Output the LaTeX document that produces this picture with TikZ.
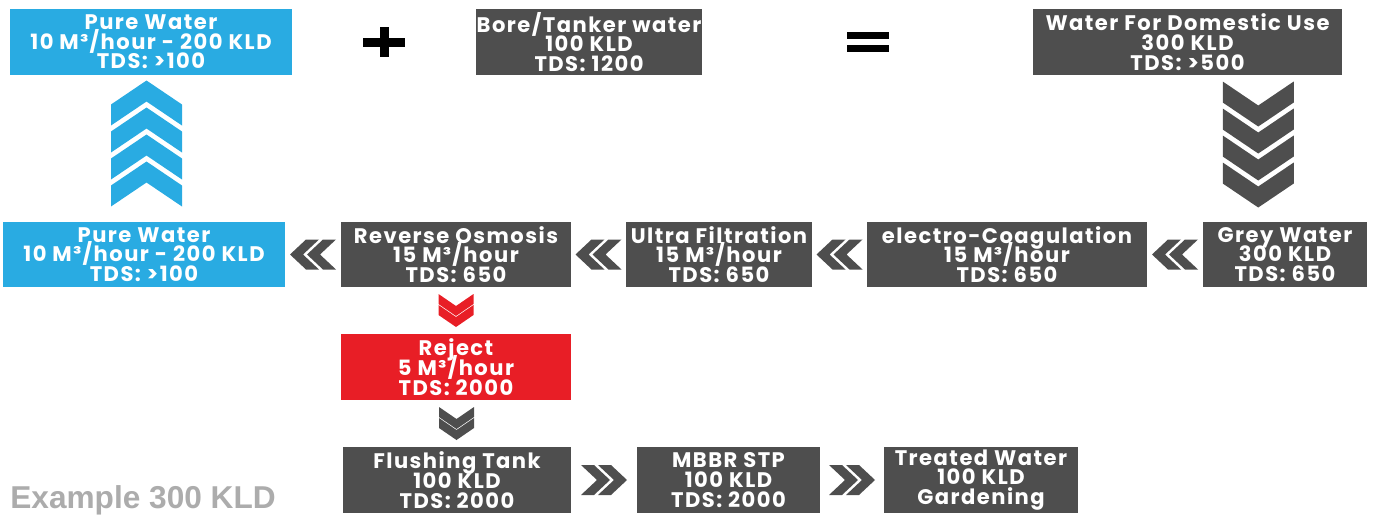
\documentclass[tikz,border=0pt]{standalone}
\usepackage{fontspec}
\usepackage{tikz}
\usetikzlibrary{calc}
\newfontfamily\boxfont{Poppins}[LetterSpace=7]
\newfontfamily\notefont{Liberation Sans}
\newcommand\flowfont{\boxfont\bfseries\fontsize{12}{11.2}\selectfont\lineskiplimit=-20pt\relax}

\tikzset{
  flowbox/.style={rectangle, inner sep=0pt, text=white, align=center,
    font=\flowfont},
  graybox/.style={flowbox, fill=boxgray},
  bluebox/.style={flowbox, fill=pureblue},
  redbox/.style={flowbox, fill=rejectred},
  % four stacked chevrons pointing up
  pics/chevstack/.style={code={
    \foreach \k in {0,...,3}{
      \pgfmathsetmacro\dy{-63+27*\k}
      \fill (-35.5,\dy+24) -- (0,\dy) -- (35.5,\dy+24) -- (35.5,\dy+45)
        -- (0,\dy+21) -- (-35.5,\dy+45) -- cycle;
    }}},
  % double chevron pointing left
  pics/chevleft/.style={code={
    \foreach \k in {0,1}{
      \pgfmathsetmacro\dx{-23+17*\k}
      \fill (\dx,0) -- (\dx+16,-15) -- (\dx+29,-15) -- (\dx+13,0)
        -- (\dx+29,15) -- (\dx+16,15) -- cycle;
    }}},
  % double chevron pointing down
  pics/chevdown/.style={code={
    \foreach \k in {0,1}{
      \pgfmathsetmacro\dy{-16.5+11*\k}
      \fill (-17.5,\dy) -- (0,\dy+12) -- (17.5,\dy) -- (17.5,\dy+10)
        -- (0,\dy+22) -- (-17.5,\dy+10) -- cycle;
    }}},
}

\begin{document}
\begin{tikzpicture}[x=0.02cm, y=-0.02cm]
  % Define colors
  \definecolor{boxgray}{RGB}{78,78,78}
  \definecolor{pureblue}{RGB}{41,171,226}
  \definecolor{rejectred}{RGB}{232,30,38}
  \definecolor{notegray}{RGB}{172,172,172}

  % Page frame
  \useasboundingbox (0,0) rectangle (1380,521);

  % Top row
  \node[bluebox, minimum width=5.64cm, minimum height=1.32cm] (pureTop) at (151,42)
    {Pure Water\\10 M³/hour - 200 KLD\\TDS: >100};
  \node[graybox, minimum width=4.52cm, minimum height=1.32cm] (bore) at (589,42)
    {Bore/Tanker water\\100 KLD\\TDS: 1200};
  \node[graybox, minimum width=6.18cm, minimum height=1.32cm] (domestic) at (1187.5,42)
    {Water For Domestic Use\\300 KLD\\TDS: >500};

  % Middle row
  \node[bluebox, minimum width=5.64cm, minimum height=1.3cm] (pureMid) at (144,254.5)
    {Pure Water\\10 M³/hour - 200 KLD\\TDS: >100};
  \node[graybox, minimum width=4.6cm, minimum height=1.3cm] (ro) at (456,254.5)
    {Reverse Osmosis\\15 M³/hour\\TDS: 650};
  \node[graybox, minimum width=3.72cm, minimum height=1.3cm] (uf) at (719,254.5)
    {Ultra Filtration\\15 M³/hour\\TDS: 650};
  \node[graybox, minimum width=5.6cm, minimum height=1.3cm] (ec) at (1007,254.5)
    {electro-Coagulation\\15 M³/hour\\TDS: 650};
  \node[graybox, minimum width=3.28cm, minimum height=1.3cm] (grey) at (1285,254.5)
    {Grey Water\\300 KLD\\TDS: 650};

  % Reject
  \node[redbox, minimum width=4.6cm, minimum height=1.32cm] (reject) at (456,367)
    {Reject\\5 M³/hour\\TDS: 2000};

  % Bottom row
  \node[graybox, minimum width=4.56cm, minimum height=1.32cm] (flush) at (457,480)
    {Flushing Tank\\100 KLD\\TDS: 2000};
  \node[graybox, minimum width=3.66cm, minimum height=1.32cm] (mbbr) at (728.5,480)
    {MBBR STP\\100 KLD\\TDS: 2000};
  \node[graybox, minimum width=3.88cm, minimum height=1.32cm] (treated) at (981,480)
    {Treated Water\\100 KLD\\Gardening};

  % Plus and equals signs
  \coordinate (plus) at ($(pureTop.east)!0.5!(bore.west)$);
  \fill ($(plus)+(-21,-4.5)$) rectangle ($(plus)+(21,4.5)$);
  \fill ($(plus)+(-4.5,-15)$) rectangle ($(plus)+(4.5,15)$);
  \coordinate (equals) at ($(bore.east)!0.5!(domestic.west)$);
  \fill ($(equals)+(-21,-10)$) rectangle ($(equals)+(21,-3)$);
  \fill ($(equals)+(-21,3)$) rectangle ($(equals)+(21,10)$);

  % Vertical chevron stacks
  \pic[pureblue] at ($(pureTop.south)!0.5!(pureMid.north)+(-1,-5)$) {chevstack};
  \pic[boxgray, rotate=180] at ($(domestic.south)!0.5!(grey.north)+(22,-4)$) {chevstack};

  % Double chevrons between boxes
  \pic[boxgray] at ($(grey.west)!0.5!(ec.east)$) {chevleft};
  \pic[boxgray] at ($(ec.west)!0.5!(uf.east)$) {chevleft};
  \pic[boxgray] at ($(uf.west)!0.5!(ro.east)$) {chevleft};
  \pic[boxgray] at ($(ro.west)!0.5!(pureMid.east)$) {chevleft};
  \pic[rejectred] at ($(ro.south)!0.5!(reject.north)$) {chevdown};
  \pic[boxgray] at ($(reject.south)!0.5!(flush.north)$) {chevdown};
  \pic[boxgray, xscale=-1] at ($(flush.east)!0.5!(mbbr.west)$) {chevleft};
  \pic[boxgray, xscale=-1] at ($(mbbr.east)!0.5!(treated.west)$) {chevleft};

  % Caption
  \node[anchor=base west, inner sep=0pt, text=notegray,
    font=\notefont\bfseries\fontsize{18}{20}\selectfont] (note) at (10,508)
    {Example 300 KLD};
\end{tikzpicture}
\end{document}
